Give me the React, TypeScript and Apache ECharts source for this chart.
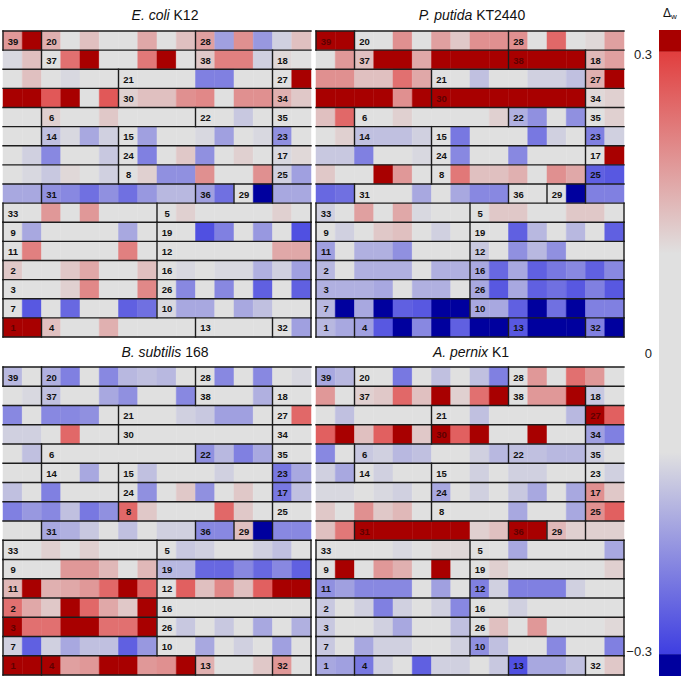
import React, { useEffect, useRef } from "react";
import * as echarts from "echarts";

// ---------- data (Δw per cell, 16 rows × 16 columns) ----------
const E_COLI = [
  [0.19, 0.33, 0.16, 0, 0.14, 0, 0, 0.17, 0, 0.14, 0.18, -0.18, 0.2, -0.19, -0.12, 0.14],
  [-0.11, 0.14, 0, 0.24, 0.33, 0, 0, 0.23, 0.33, 0, 0.13, 0.22, 0.22, -0.12, 0.11, 0],
  [0, 0.14, 0, -0.11, -0.1, 0, 0, 0, 0, 0, -0.22, -0.22, 0, 0, 0, 0.33],
  [0.33, 0.33, 0.27, 0.33, 0, 0.27, 0.12, 0.14, 0.14, 0.2, 0.21, 0, 0.2, 0.2, 0.16, 0.13],
  [0, 0, 0.12, 0, 0, 0.13, 0, 0, 0, 0, 0, 0, -0.13, 0, 0, 0],
  [0, 0, -0.14, -0.11, -0.17, -0.12, 0, -0.18, 0, 0, -0.11, -0.18, 0, -0.11, -0.2, 0],
  [0, -0.12, -0.21, 0, 0, -0.13, 0, -0.22, 0, 0.13, -0.2, 0, 0.12, 0, -0.11, 0.11],
  [0, -0.11, -0.13, 0.11, 0, -0.12, 0, 0.12, -0.2, -0.2, 0.2, 0, 0, 0.2, -0.12, -0.18],
  [-0.17, -0.17, -0.2, -0.21, -0.24, -0.2, -0.24, -0.19, -0.15, -0.15, -0.18, -0.24, 0, -0.33, -0.17, -0.17],
  [0, 0, 0.19, 0, 0.19, 0, 0, 0, 0, 0.12, 0, 0, 0, 0, 0.12, 0],
  [0, -0.17, 0, 0, 0, 0, -0.17, 0, 0, 0, -0.28, -0.22, 0, -0.19, 0, -0.28],
  [0, 0.22, 0, 0, 0, 0, 0.22, 0, 0, 0, 0, 0, 0, 0, 0.17, 0.17],
  [0.13, 0, 0, 0.13, 0.17, 0, 0, 0.14, 0, -0.11, 0, -0.11, -0.11, -0.16, -0.12, -0.18],
  [0, 0, 0, 0.12, 0.21, 0, 0, 0.21, 0, -0.21, 0, -0.21, 0, -0.26, 0, -0.26],
  [0, -0.27, 0, -0.25, 0, 0, -0.26, -0.24, -0.11, -0.17, -0.17, 0, -0.17, -0.14, 0, 0],
  [0.33, 0.33, 0.14, 0, 0, 0.16, 0, 0, 0, 0, 0, 0, 0, 0, 0, -0.18],
];

const P_PUTIDA = [
  [0.33, 0.33, 0, 0, 0.2, 0, 0.18, 0.13, 0.2, 0.2, 0.2, 0, 0.25, 0, 0.11, 0.18],
  [0, 0.19, 0.14, 0.33, 0.33, 0.17, 0.33, 0.33, 0.33, 0.33, 0.33, 0.33, 0.33, 0.33, 0.15, 0.18],
  [0.2, 0.2, 0.14, 0.14, 0.24, 0.17, 0, 0, -0.14, 0, 0, -0.12, -0.12, -0.14, 0.16, 0.33],
  [0.33, 0.33, 0.33, 0.33, 0.2, 0.33, 0.33, 0.33, 0.33, 0.33, 0.33, 0.33, 0.33, 0.33, 0.11, 0.12],
  [0.14, 0.25, 0, 0, 0.12, 0, 0, 0, 0, 0.12, -0.16, -0.2, 0, -0.2, 0, 0.12],
  [0, 0.12, -0.14, -0.14, -0.14, -0.12, 0, -0.23, 0, 0, 0, -0.23, -0.12, 0, -0.22, -0.12],
  [-0.13, -0.13, -0.22, 0, 0, -0.11, 0, -0.21, 0, 0, -0.21, 0, 0, 0, 0, 0.33],
  [0.13, 0, 0, 0.33, 0.19, 0, 0, 0.23, 0.14, 0.14, 0.16, 0, 0.2, 0.17, -0.26, -0.27],
  [-0.25, -0.24, 0, 0, 0, -0.17, 0, -0.17, -0.21, -0.21, 0, 0, 0, -0.33, -0.22, -0.22],
  [-0.12, 0, 0.18, 0, 0.17, -0.11, 0, 0, 0, 0.13, 0.13, 0, 0, 0.13, 0.13, 0],
  [0, -0.12, 0, 0.13, 0.14, 0, -0.12, 0, 0, 0, -0.26, -0.15, 0, -0.15, 0, -0.26],
  [-0.18, 0, -0.16, -0.16, -0.2, 0, 0, 0, -0.13, 0, -0.2, -0.15, -0.2, 0, 0, 0],
  [-0.15, 0, -0.16, -0.16, -0.16, 0, -0.16, -0.16, -0.17, -0.25, -0.17, -0.26, -0.23, -0.21, -0.26, -0.21],
  [-0.16, -0.16, -0.16, -0.17, 0, -0.16, -0.16, 0, -0.17, -0.27, -0.17, -0.26, -0.24, -0.27, -0.22, -0.27],
  [-0.15, -0.33, -0.17, -0.33, -0.26, -0.27, -0.33, -0.33, -0.17, -0.17, -0.26, -0.33, -0.24, -0.33, -0.22, -0.22],
  [-0.15, -0.17, -0.18, -0.27, -0.33, -0.21, -0.33, -0.26, -0.33, -0.33, -0.27, -0.33, -0.33, -0.33, -0.22, -0.33],
];

const B_SUBTILIS = [
  [-0.15, 0, -0.16, -0.22, 0, -0.21, -0.15, -0.14, -0.15, 0, 0, -0.21, 0, -0.21, 0, -0.11],
  [0, -0.11, -0.14, 0, 0, -0.17, -0.2, 0, 0, -0.21, 0, 0, 0, -0.16, 0, 0],
  [-0.21, 0, -0.21, -0.21, -0.2, 0, 0, 0, 0, -0.12, -0.13, -0.18, -0.18, 0, 0, 0.25],
  [-0.12, -0.12, 0, 0.25, 0, 0, 0, 0, 0, 0, 0, 0, 0, 0, 0, 0],
  [0, -0.14, 0, 0, 0, 0, 0, 0, 0, 0, -0.2, -0.15, -0.22, -0.17, 0, 0],
  [0, 0, 0, 0, -0.17, 0, 0, -0.14, 0, 0, 0, -0.12, 0, 0, -0.23, -0.17],
  [-0.14, 0, -0.22, 0, 0, 0, 0, -0.2, 0, 0.13, -0.2, 0, 0.13, 0, -0.23, -0.14],
  [-0.22, -0.19, -0.21, -0.14, -0.23, -0.2, 0.25, 0.13, 0, 0, 0, 0.25, 0.13, 0, 0, 0],
  [0, 0, -0.17, -0.16, -0.13, 0, -0.14, 0, -0.12, -0.12, -0.21, -0.21, 0.14, -0.33, -0.21, -0.21],
  [0, 0, 0.12, 0, 0.12, 0, 0, 0, 0, -0.13, -0.12, 0, 0, -0.12, -0.14, 0],
  [0, 0, 0, 0.19, 0.19, 0.15, 0, 0.15, -0.15, -0.15, -0.25, -0.25, -0.21, -0.25, -0.21, -0.26],
  [0.15, 0.33, 0.16, 0.17, 0.19, 0.25, 0.33, 0.25, 0, 0.26, 0.14, 0.21, 0.14, 0.26, 0.33, 0.33],
  [0.24, 0.17, 0.13, 0.33, 0.25, 0.17, 0.13, 0.33, 0, 0, 0, 0, 0, 0, 0, 0],
  [0.33, 0.24, 0.24, 0.33, 0.33, 0.24, 0.24, 0.33, 0, -0.13, 0, -0.13, 0, -0.17, 0, -0.16],
  [-0.12, -0.26, -0.12, -0.17, -0.14, -0.14, -0.26, -0.19, 0, 0, -0.17, 0, -0.12, 0, -0.18, 0],
  [0.33, 0.33, 0.33, 0.18, 0.19, 0.33, 0.33, 0.19, 0.2, 0.33, 0.16, 0, 0, 0.13, 0.19, 0],
];

const A_PERNIX = [
  [-0.17, -0.15, 0, 0, -0.23, 0, -0.14, 0, -0.14, -0.22, 0, 0.19, 0, 0.24, 0.19, 0],
  [0.19, 0, 0.12, 0.13, 0.25, 0.14, 0.33, 0.12, 0.24, 0.33, 0, 0.19, 0.19, 0.33, -0.13, 0],
  [0, -0.14, 0, 0, 0, 0, 0, 0, -0.14, 0, 0, 0, 0, -0.15, 0.33, 0.26],
  [0.26, 0.33, 0.14, 0.26, 0.33, 0.13, 0.33, 0.26, 0.33, 0, 0, 0.33, 0, 0, -0.18, -0.22],
  [-0.21, 0, -0.13, -0.12, -0.15, -0.14, 0, 0, -0.12, -0.15, -0.14, -0.14, -0.15, -0.15, -0.12, 0],
  [-0.12, -0.17, 0, -0.12, 0, 0, 0, 0, -0.12, 0, -0.12, -0.12, 0, 0, 0, -0.12],
  [-0.11, -0.11, 0, -0.11, -0.12, 0, -0.17, 0, -0.12, 0, -0.13, -0.17, 0, -0.17, 0.2, 0.13],
  [0.13, 0, 0.2, 0.13, 0.15, 0, 0, 0, 0, 0, -0.17, 0, 0, -0.17, 0.2, 0.26],
  [0.14, 0.23, 0.33, 0.33, 0.33, 0.33, 0.33, 0.33, 0.12, 0.14, 0.33, 0.33, 0.15, 0.12, 0.12, 0.12],
  [0, 0, 0, 0, -0.11, 0, 0.11, 0.11, 0, 0, -0.17, 0, 0, 0, 0, -0.17],
  [0, 0.33, 0, 0.19, 0.16, 0, 0.33, 0, 0, 0.12, 0, 0, 0, 0, 0, 0.12],
  [-0.2, -0.18, -0.21, -0.21, -0.21, 0, -0.18, 0, -0.22, -0.12, -0.22, -0.22, -0.22, -0.12, 0, 0],
  [-0.13, 0, -0.12, -0.22, -0.12, 0, -0.12, -0.21, 0, 0, -0.12, 0, 0, 0, 0, 0],
  [-0.13, 0, 0, -0.12, -0.17, 0, 0, -0.14, 0, 0.14, 0, 0.19, 0, 0, 0, 0.11],
  [-0.13, 0, -0.17, -0.12, -0.12, 0, 0, -0.12, -0.2, -0.14, 0, 0, -0.21, 0, 0, -0.22],
  [-0.17, -0.18, -0.23, -0.12, 0, -0.26, -0.12, -0.12, 0, -0.13, -0.28, -0.17, -0.17, -0.14, 0, 0.13],
];

// boxes, in reading order (row by row), with their sizes in cells
const BOX_LABELS: (number | null)[] = [
  39, 20, 28, 37, 38, 18, 21, 27, 30, 34, 6, 22, 35, 14, 15, 23, 24, 17, 8, 25, 31, 36, 29, null,
  33, 5, 9, 19, 11, 12, 2, 16, 3, 26, 7, 10, 1, 4, 13, 32,
];
const BOX_SIZES = [
  2, 8, 8, 8, 4, 8, 8, 8, 8, 4, 8, 4, 4, 4, 8, 8, 8, 8, 8, 4, 8, 2, 2, 2,
  8, 8, 8, 8, 8, 8, 8, 8, 8, 8, 8, 8, 2, 8, 4, 2,
];

const PANEL_NAMES = ["E. coli", "P. putida", "B. subtilis", "A. pernix"];
const PANEL_STRAINS = ["K12", "KT2440", "168", "K1"];
const PANELS = [E_COLI, P_PUTIDA, B_SUBTILIS, A_PERNIX];

const SCALE_MIN = -0.325;
const SCALE_MAX = 0.325;
const SCALE_TICKS = [-0.3, 0, 0.3];

// ---------- colour scale ----------
const N = 16;
const SAT = 0.303;
const FLAT = 0.1;
const GRAY = [224, 224, 224];
const RED = [225, 62, 62];
const BLUE = [62, 62, 225];
const DARK_RED = "#a80000";
const DARK_BLUE = "#00009e";
const FONT = '"Liberation Sans", Arial, Helvetica, sans-serif';

const rgb = (c: number[]) => `rgb(${c.map((x) => Math.round(x)).join(",")})`;
const mix = (a: number[], b: number[], t: number) => a.map((x, i) => x + (b[i] - x) * t);

function colorFor(v: number): string {
  if (v >= SAT) return DARK_RED;
  if (v <= -SAT) return DARK_BLUE;
  if (v > FLAT) return rgb(mix(GRAY, RED, (v - FLAT) / (SAT - FLAT)));
  if (v < -FLAT) return rgb(mix(GRAY, BLUE, (-v - FLAT) / (SAT - FLAT)));
  return rgb(GRAY);
}

// ---------- structure helpers ----------
const BOX_OF: number[] = [];
const LABEL_AT: (number | null)[] = [];
BOX_SIZES.forEach((s, b) => {
  for (let k = 0; k < s; k++) {
    LABEL_AT.push(k === 0 ? BOX_LABELS[b] : null);
    BOX_OF.push(b);
  }
});

function outlineSegments(): number[][] {
  const segs: number[][] = [];
  for (let y = 0; y <= N; y++) {
    let runStart = -1;
    for (let c = 0; c <= N; c++) {
      let edge = false;
      if (c < N) {
        if (y === 0 || y === N) edge = true;
        else edge = BOX_OF[(y - 1) * N + c] !== BOX_OF[y * N + c];
      }
      if (edge && runStart < 0) runStart = c;
      if (!edge && runStart >= 0) {
        segs.push([runStart, y, c, y]);
        runStart = -1;
      }
    }
  }
  for (let r = 0; r < N; r++) {
    for (let c = 0; c <= N; c++) {
      let edge = false;
      if (c === 0) {
        const i = r * N;
        edge = i === 0 || BOX_OF[i - 1] !== BOX_OF[i];
      } else if (c === N) {
        const i = r * N + N - 1;
        edge = i === N * N - 1 || (BOX_OF[i + 1] !== BOX_OF[i] && BOX_LABELS[BOX_OF[i]] !== null);
      } else {
        const i = r * N + c;
        edge = BOX_OF[i - 1] !== BOX_OF[i];
      }
      if (edge) segs.push([c, r, c, r + 1]);
    }
  }
  return segs;
}

const GRIDS = [
  { left: 3, top: 31, width: 308, height: 306 },
  { left: 316, top: 31, width: 308, height: 306 },
  { left: 3, top: 367, width: 308, height: 308 },
  { left: 316, top: 367, width: 308, height: 308 },
];
const TITLE_POS = [
  [165, 15],
  [472, 15],
  [165, 352],
  [471, 352],
];

function buildOption(): any {
  const segs = outlineSegments();
  const grid: any[] = GRIDS.map((g) => ({ ...g }));
  grid.push({ left: 659, top: 30, width: 22, height: 646 });

  const xAxis: any[] = [];
  const yAxis: any[] = [];
  for (let p = 0; p < 4; p++) {
    xAxis.push({ type: "value", gridIndex: p, min: 0, max: N, show: false });
    yAxis.push({ type: "value", gridIndex: p, min: 0, max: N, inverse: true, show: false });
  }
  xAxis.push({ type: "value", gridIndex: 4, min: 0, max: 1, show: false });
  yAxis.push({
    type: "value",
    gridIndex: 4,
    min: SCALE_MIN,
    max: SCALE_MAX,
    interval: 0.025,
    position: "left",
    axisLine: { show: false },
    axisTick: { show: false },
    splitLine: { show: false },
    axisLabel: {
      margin: 7,
      fontSize: 13,
      fontFamily: FONT,
      color: "#222",
      formatter: (v: number) => {
        const t = SCALE_TICKS.find((s) => Math.abs(s - v) < 1e-6);
        if (t === undefined) return "";
        if (t === 0) return "0";
        return t < 0 ? "\u2212" + Math.abs(t) : String(t);
      },
    },
  });

  const series: any[] = [];
  PANELS.forEach((panel, p) => {
    const data: number[][] = [];
    panel.forEach((row, r) => row.forEach((v, c) => data.push([c, r, v])));
    series.push({
      type: "custom",
      xAxisIndex: p,
      yAxisIndex: p,
      silent: true,
      z: 2,
      encode: { x: 0, y: 1 },
      data,
      renderItem: (params: any, api: any) => {
        const c = api.value(0);
        const r = api.value(1);
        const v = api.value(2);
        const p0 = api.coord([c, r]);
        const p1 = api.coord([c + 1, r + 1]);
        const x = Math.min(p0[0], p1[0]);
        const y = Math.min(p0[1], p1[1]);
        const w = Math.abs(p1[0] - p0[0]);
        const h = Math.abs(p1[1] - p0[1]);
        const col = colorFor(v);
        const children: any[] = [
          { type: "rect", shape: { x, y, width: w, height: h }, style: { fill: col, stroke: col, lineWidth: 0.5 } },
        ];
        const lab = LABEL_AT[r * N + c];
        if (lab !== null && lab !== undefined) {
          children.push({
            type: "text",
            style: {
              text: String(lab),
              x: x + w / 2 + 0.5,
              y: y + h / 2 + 0.5,
              align: "center",
              textAlign: "center",
              verticalAlign: "middle",
              textVerticalAlign: "middle",
              fontSize: 9.5,
              fontWeight: "bold",
              fontFamily: FONT,
              fill: v >= SAT ? "#5e0000" : "#111",
            },
          });
        }
        return { type: "group", children };
      },
    });
  });
  PANELS.forEach((_, p) => {
    series.push({
      type: "custom",
      xAxisIndex: p,
      yAxisIndex: p,
      silent: true,
      z: 3,
      encode: { x: [0, 2], y: [1, 3] },
      data: segs,
      renderItem: (params: any, api: any) => {
        const a = api.coord([api.value(0), api.value(1)]);
        const b = api.coord([api.value(2), api.value(3)]);
        return {
          type: "line",
          shape: { x1: a[0], y1: a[1], x2: b[0], y2: b[1] },
          style: { stroke: "#1c1c1c", lineWidth: 1.4, lineCap: "square" },
        };
      },
    });
  });

  // colour bar: saturated top block, gradient, saturated bottom block
  const bands = [
    [SAT, SCALE_MAX],
    [-SAT, SAT],
    [SCALE_MIN, -SAT],
  ];
  series.push({
    type: "custom",
    xAxisIndex: 4,
    yAxisIndex: 4,
    silent: true,
    encode: { x: -1, y: [0, 1] },
    data: bands,
    renderItem: (params: any, api: any) => {
      const lo = api.value(0);
      const hi = api.value(1);
      const a = api.coord([0, hi]);
      const b = api.coord([1, lo]);
      let fill: any;
      if (params.dataIndex === 0) fill = DARK_RED;
      else if (params.dataIndex === 2) fill = DARK_BLUE;
      else
        fill = new echarts.graphic.LinearGradient(0, 0, 0, 1, [
          { offset: 0, color: rgb(RED) },
          { offset: (SAT - FLAT) / (2 * SAT), color: rgb(GRAY) },
          { offset: (SAT + FLAT) / (2 * SAT), color: rgb(GRAY) },
          { offset: 1, color: rgb(BLUE) },
        ]);
      return {
        type: "rect",
        shape: { x: a[0], y: a[1], width: b[0] - a[0], height: b[1] - a[1] },
        style: { fill },
      };
    },
  });

  const graphic: any[] = PANEL_NAMES.map((name, i) => ({
    type: "text",
    x: TITLE_POS[i][0],
    y: TITLE_POS[i][1],
    style: {
      text: `{i|${name}} ${PANEL_STRAINS[i]}`,
      align: "center",
      textAlign: "center",
      verticalAlign: "middle",
      textVerticalAlign: "middle",
      fontSize: 14,
      fontFamily: FONT,
      fill: "#111",
      rich: { i: { fontStyle: "italic", fontSize: 14, fontFamily: FONT, fill: "#111" } },
    },
  }));
  graphic.push({
    type: "text",
    x: 670,
    y: 13,
    style: {
      text: "{d|\u0394}{s|w}",
      align: "center",
      textAlign: "center",
      verticalAlign: "middle",
      textVerticalAlign: "middle",
      fontSize: 12,
      fontFamily: FONT,
      fill: "#111",
      rich: {
        d: { fontSize: 12, fontFamily: FONT, fill: "#111", lineHeight: 15 },
        s: { fontSize: 8, fontFamily: FONT, fill: "#111", lineHeight: 15, verticalAlign: "bottom" },
      },
    },
  });

  return { animation: false, backgroundColor: "#fff", grid, xAxis, yAxis, series, graphic };
}

export default function App() {
  const ref = useRef<HTMLDivElement>(null);
  useEffect(() => {
    if (!ref.current) return;
    const chart = echarts.init(ref.current, undefined, { renderer: "svg" });
    chart.setOption(buildOption());
    return () => chart.dispose();
  }, []);
  return (
    <div
      ref={ref}
      style={{ position: "absolute", left: 0, top: 0, width: 685, height: 679 }}
    />
  );
}
